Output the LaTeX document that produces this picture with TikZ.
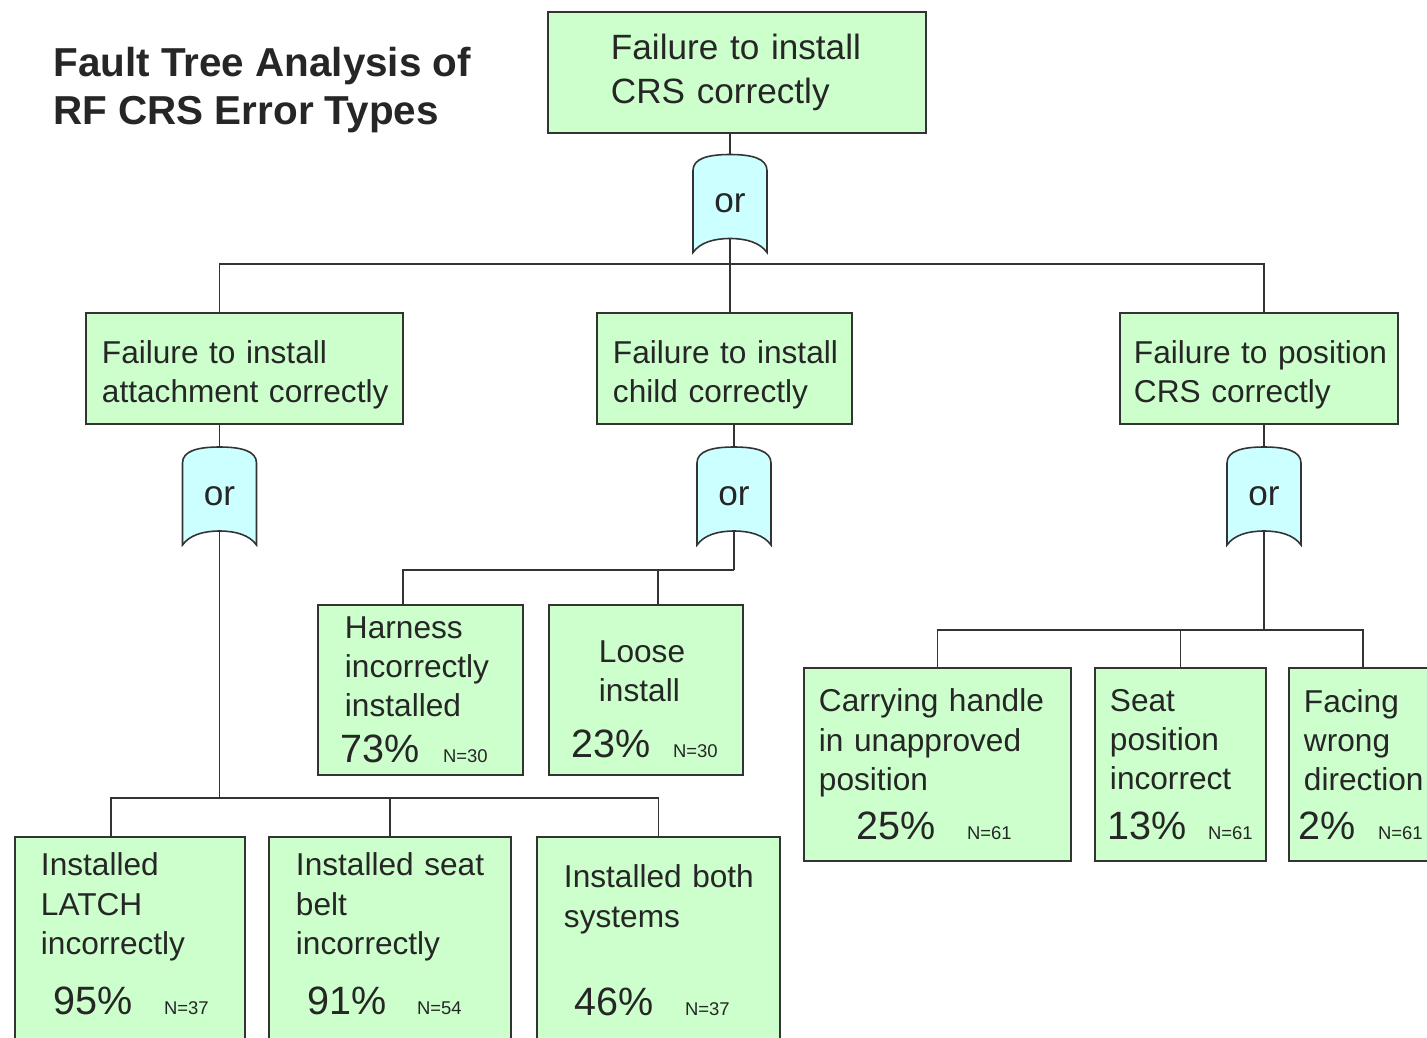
\documentclass[tikz,border=0pt]{standalone}
\usepackage{fontspec}
\setmainfont{Liberation Sans}
\usetikzlibrary{backgrounds}

\definecolor{boxgreen}{HTML}{CCFFCC}
\definecolor{gatecyan}{HTML}{CCFFFF}
\definecolor{inkgray}{HTML}{333333}

\newlength{\pxu}\setlength{\pxu}{0.02cm}
\newcommand{\indented}[2]{\leftskip=#1\pxu\relax #2\par}
\newcommand{\pctline}[5]{\par\vspace{#1\pxu}\hspace*{#2\pxu}{\fontsize{22.5}{27}\selectfont #3}\hspace{#4\pxu}{\fontsize{10.5}{12}\selectfont #5}}
\newcommand{\orgate}[2]{%
  \filldraw[gateline,shift={(#2)}] (-37,49) -- (-37,-33)
    .. controls (-37,-45) and (-22,-49) .. (0,-49)
    .. controls (22,-49) and (37,-45) .. (37,-33) -- (37,49)
    .. controls (30,39) and (16,35) .. (0,35)
    .. controls (-16,35) and (-30,39) .. (-37,49) -- cycle;
  \node[gatetext] (#1) at (#2) {or};}

\begin{document}
\begin{tikzpicture}[x=0.02cm,y=-0.02cm,
  box/.style={draw=inkgray,fill=boxgreen,line width=1.1pt,anchor=north west,
    align=left,inner xsep=0pt,inner ysep=0pt,text=black!85,
    font=\fontsize{18}{22.3}\selectfont},
  leaf/.style={box,inner ysep=0.32cm,text depth=6cm},
  gateline/.style={draw=inkgray,fill=gatecyan,line width=0.9pt},
  gatetext/.style={minimum width=1.48cm,minimum height=1.96cm,inner sep=0pt,
    text=black!85,font=\fontsize{20}{24}\selectfont},
  conn/.style={draw=inkgray,line width=1pt},
  title/.style={anchor=west,align=left,inner sep=0pt,text=black!85,
    font=\bfseries\fontsize{23}{27.2}\selectfont}]
\useasboundingbox (0,0) rectangle (1427,1038);
\clip (0,0) rectangle (1427,1038);

\node[title] (title) at (53,90) {Fault Tree Analysis of\\RF CRS Error Types};

% top event and first gate
\node[box,text width=7.56cm,minimum height=2.42cm,font=\fontsize{20}{25.5}\selectfont]
  (top) at (547,11) {\indented{63}{\rule{0pt}{0.45cm}Failure to install\newline CRS correctly}};
\orgate{g0}{730,203.5}

% second level
\node[box,text width=6.34cm,minimum height=2.22cm] (L1) at (85,312)
  {\indented{16}{\rule{0pt}{0.7cm}Failure to install\newline attachment correctly}};
\node[box,text width=5.1cm,minimum height=2.22cm] (M1) at (596,312)
  {\indented{16}{\rule{0pt}{0.7cm}Failure to install\newline child correctly}};
\node[box,text width=5.56cm,minimum height=2.22cm] (R1) at (1119,312)
  {\indented{14}{\rule{0pt}{0.7cm}Failure to position\newline CRS correctly}};
\orgate{gA}{219.5,496}
\orgate{gB}{734,496}
\orgate{gC}{1264,496}

% child branch
\node[box,text width=4.1cm,minimum height=3.4cm] (harness) at (317,604)
  {\indented{27}{Harness\newline incorrectly\newline installed\pctline{7}{-4}{73\%}{23}{N=30}}};
\node[box,text width=3.88cm,minimum height=3.4cm] (loose) at (548,604)
  {\indented{50}{\rule{0pt}{0.8cm}Loose\newline install\pctline{17}{-27}{23\%}{22}{N=30}}};

% attachment branch
\node[leaf,text width=4.6cm] (latch) at (14,836)
  {\indented{26}{Installed\newline LATCH\newline incorrectly\pctline{21}{13}{95\%}{31}{N=37}}};
\node[leaf,text width=4.84cm] (belt) at (268,836)
  {\indented{27}{Installed seat\newline belt\newline incorrectly\pctline{21}{12}{91\%}{30}{N=54}}};
\node[leaf,text width=4.86cm,inner ysep=0.56cm] (both) at (536,836)
  {\indented{27}{Installed both\newline systems\pctline{49}{11}{46\%}{31}{N=37}}};

% position branch
\node[box,text width=5.34cm,minimum height=3.86cm] (carry) at (803,667)
  {\indented{15}{Carrying handle\newline in unapproved\newline position\pctline{10}{38}{25\%}{31}{N=61}}};
\node[box,text width=3.42cm,minimum height=3.86cm] (seat) at (1094,667)
  {\indented{15}{Seat\newline position\newline incorrect\pctline{10}{-2}{13\%}{21}{N=61}}};
\node[box,text width=2.96cm,minimum height=3.86cm] (facing) at (1288,667)
  {\indented{15}{Facing\newline wrong\newline direction\pctline{10}{-5}{2\%}{22}{N=61}}};

\begin{scope}[on background layer]
\fill[white] (0,0) rectangle (1427,1038);
\coordinate (b0) at (730,264);
\coordinate (bA) at (219.5,798);
\coordinate (bB) at (734,570);
\coordinate (bC) at (1264,630);
\draw[conn] (g0 |- top.south) -- (g0.center) -- (b0);
\draw[conn] (gA |- L1.north) |- (b0) -| (gC |- R1.north);
\draw[conn] (b0) -- (b0 |- M1.north);
\draw[conn] (gA |- L1.south) -- (gA.center) -- (bA);
\draw[conn] (gB |- M1.south) -- (gB.center) -- (bB);
\draw[conn] (gC |- R1.south) -- (gC.center) -- (bC);
\draw[conn] ([xshift=-0.38cm]latch.north) |- (bA) -| (both.north);
\draw[conn] (bA -| belt.north) -- (belt.north);
\path ([xshift=0.24cm]loose.north) coordinate (lo);
\draw[conn] ([xshift=-0.35cm]harness.north) |- (bB);
\draw[conn] (lo) -- (lo |- bB);
\draw[conn] (carry.north) |- (bC) -| (facing.north);
\draw[conn] (bC -| seat.north) -- (seat.north);
\end{scope}
\end{tikzpicture}
\end{document}
